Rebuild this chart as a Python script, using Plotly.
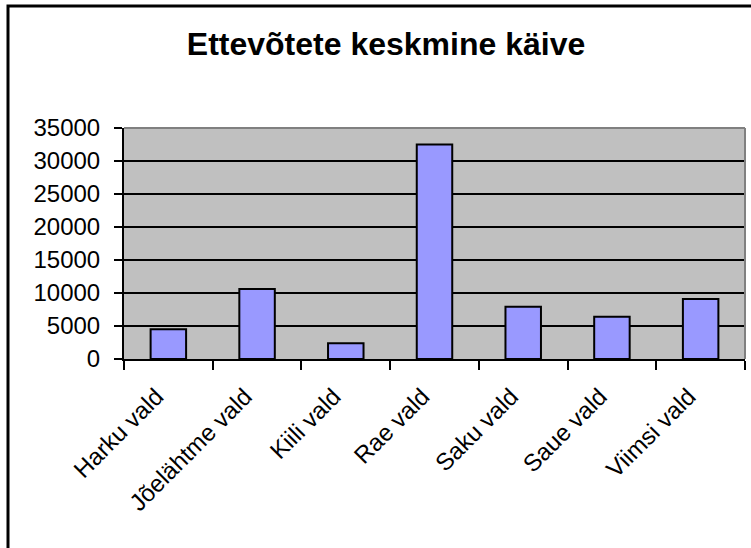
import plotly.graph_objects as go

categories = ["Harku vald", "Jõelähtme vald", "Kiili vald", "Rae vald", "Saku vald", "Saue vald", "Viimsi vald"]
values = [4500, 10600, 2400, 32500, 7900, 6400, 9100]
y_ticks = [0, 5000, 10000, 15000, 20000, 25000, 30000, 35000]
title_text = "Ettevõtete keskmine käive"

W, H = 751, 548
ML, MR, MT, MB = 124, 6, 128, 189
pw = W - ML - MR
ph = H - MT - MB

def px_x(px):
    return (px - ML) / pw

def px_y(py):
    return (H - MB - py) / ph

font = "Arial, Liberation Sans, sans-serif"

fig = go.Figure(go.Bar(
    x=categories, y=values,
    marker=dict(color="#9999FF", line=dict(color="black", width=2)),
    width=0.4,
))

fig.update_layout(
    width=W, height=H,
    margin=dict(l=ML, r=MR, t=MT, b=MB),
    paper_bgcolor="white",
    plot_bgcolor="#C0C0C0",
    showlegend=False,
    title=dict(text="<b>" + title_text + "</b>", x=386 / W, xanchor="center",
               y=1 - 44 / H, yanchor="middle",
               font=dict(family=font, size=32, color="black")),
    font=dict(family=font, color="black"),
)

fig.update_xaxes(
    type="category", range=[-0.5, len(categories) - 0.5],
    showline=True, linecolor="black", linewidth=2,
    ticks="outside", tickson="boundaries", ticklen=9, tickwidth=2, tickcolor="black",
    tickangle=-45, tickfont=dict(family=font, size=24, color="black"),
    ticklabelstandoff=12, ticklabelshift=-12,
    showgrid=False,
)
fig.update_yaxes(
    range=[0, 35000], tickvals=y_ticks, ticktext=[str(v) for v in y_ticks],
    showline=True, linecolor="black", linewidth=2,
    ticks="outside", ticklen=8, tickwidth=2, tickcolor="black",
    tickfont=dict(family=font, size=24, color="black"),
    ticklabelstandoff=9,
    showgrid=True, gridcolor="black", gridwidth=2,
    zeroline=False,
)

shapes = [
    dict(type="line", xref="paper", yref="paper", x0=0, x1=1, y0=1, y1=1,
         line=dict(color="#808080", width=2), layer="above"),
    dict(type="line", xref="paper", yref="paper", x0=1, x1=1, y0=0, y1=1,
         line=dict(color="#808080", width=2), layer="above"),
    dict(type="rect", xref="paper", yref="paper",
         x0=px_x(8), x1=px_x(W + 20), y0=px_y(H + 20), y1=px_y(6),
         line=dict(color="black", width=3), fillcolor="rgba(0,0,0,0)", layer="above"),
]
fig.update_layout(shapes=shapes)

fig.write_html("out.html", config={"displayModeBar": False},
               post_script="document.body.style.margin='0';document.body.style.overflow='hidden';")
